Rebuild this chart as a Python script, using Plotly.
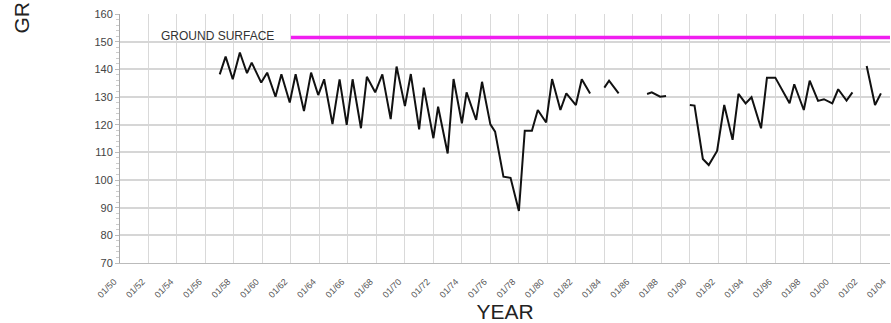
import plotly.graph_objects as go

# Semi-annual water-level readings (None marks a break in the record)
dates = [
    "1957-01", "1957-06", "1957-12", "1958-06", "1958-12", "1959-04", "1959-12",
    "1960-05", "1960-12", "1961-05", "1961-12", "1962-05", "1962-12", "1963-06",
    "1963-12", "1964-05", "1964-12", "1965-06", "1965-12", "1966-05", "1966-12",
    "1967-05", "1967-12", "1968-06", "1969-01", "1969-06", "1970-01", "1970-06",
    "1971-01", "1971-05", "1972-01", "1972-05", "1973-01", "1973-06", "1974-01",
    "1974-05", "1975-01", "1975-06", "1976-01", "1976-05", "1976-12", "1977-06",
    "1978-01", "1978-06", "1978-12", "1979-05", "1979-12", "1980-05", "1980-12",
    "1981-05", "1982-01", "1982-06", "1983-01", "1983-06",
    "1984-01", "1984-05", "1985-01", "1986-01",
    "1987-01", "1987-05", "1987-12", "1988-05", "1989-01",
    "1990-01", "1990-05", "1990-12", "1991-05", "1991-12", "1992-06", "1993-01",
    "1993-06", "1993-12", "1994-05", "1995-01", "1995-06", "1996-01", "1997-01",
    "1997-05", "1998-01", "1998-06", "1999-01", "1999-06", "2000-01", "2000-06",
    "2001-01", "2001-06", "2002-01",
    "2002-06", "2003-01", "2003-06",
]
levels = [
    138.2, 144.6, 136.4, 146.1, 138.6, 142.4, 135.2,
    138.8, 130.1, 138.2, 128.0, 138.2, 124.9, 138.8,
    130.7, 136.4, 120.2, 136.4, 119.9, 136.4, 118.7,
    137.3, 131.7, 138.2, 122.0, 141.0, 126.7, 138.3,
    118.3, 133.4, 115.1, 126.5, 109.6, 136.5, 120.5,
    131.7, 121.7, 135.5, 120.1, 117.5, 101.2, 100.8,
    88.8, 117.8, 117.8, 125.3, 120.8, 136.5, 125.3,
    131.3, 127.1, 136.4, 131.3, None,
    133.4, 135.9, 131.3, None,
    131.1, 131.7, 130.1, 130.4, None,
    127.1, 126.9, 107.6, 105.4, 110.5, 127.1, 114.5,
    131.1, 127.7, 129.9, 118.7, 137.0, 137.0, 127.7,
    134.6, 125.3, 135.9, 128.6, 129.2, 127.7, 132.8,
    128.7, 131.7, None,
    141.2, 127.1, 131.3,
]

ground_surface_dates = ["1962-01-01", "2004-02-01"]
ground_surface_level = 151.5

x_range = ["1950-01-01", "2004-01-20"]
y_range = [70, 160]

fig = go.Figure()

fig.add_trace(go.Scatter(
    x=ground_surface_dates,
    y=[ground_surface_level] * len(ground_surface_dates),
    mode="lines",
    line=dict(color="#f01ef0", width=3.5),
    hoverinfo="skip",
))

fig.add_trace(go.Scatter(
    x=dates, y=levels, mode="lines",
    line=dict(color="#111111", width=2),
    connectgaps=False,
))

# white label box sitting over the grid
fig.add_shape(
    type="rect", xref="paper", yref="paper",
    x0=0.035, x1=0.222, y0=0.885, y1=0.993,
    fillcolor="white", line=dict(width=0), layer="between",
)
fig.add_annotation(
    xref="paper", yref="paper", x=0.127, y=0.912,
    xanchor="center", yanchor="middle",
    text="GROUND SURFACE", showarrow=False,
    font=dict(family="Liberation Sans, Arial", size=12, color="#333333"),
)

# vertical axis title
fig.add_annotation(
    xref="paper", yref="paper", x=-0.128, y=0.915,
    xanchor="center", yanchor="bottom", textangle=-90,
    text="GR", showarrow=False,
    font=dict(family="Liberation Sans, Arial", size=21, color="#222222"),
)

fig.update_layout(
    width=891, height=323,
    margin=dict(l=120, r=1, t=14, b=60),
    paper_bgcolor="white", plot_bgcolor="white",
    showlegend=False,
    font=dict(family="Liberation Sans, Arial", color="#444444"),
)

fig.update_xaxes(
    type="date", range=x_range,
    tick0="1950-01-01", dtick="M24", tickformat="%m/%y",
    tickangle=-45, tickfont=dict(size=9, color="#555555"),
    ticklabelstandoff=9, ticklabelshift=-6,
    showgrid=True, gridcolor="#d9d9d9", gridwidth=1,
    showline=True, linecolor="#bbbbbb", linewidth=1,
    ticks="", zeroline=False,
    title=dict(text="YEAR", font=dict(size=21, color="#222222"), standoff=0),
)
fig.update_yaxes(
    range=y_range, dtick=10, tick0=70,
    tickfont=dict(size=11, color="#444444"),
    showgrid=True, gridcolor="#d6d6d6", gridwidth=1.5,
    showline=True, linecolor="#aaaaaa", linewidth=1,
    ticks="outside", ticklen=4, tickcolor="#bbbbbb",
    minor=dict(dtick=2, ticks="outside", ticklen=3, tickcolor="#cccccc", showgrid=False),
    zeroline=False,
)

fig.write_html("out.html")
